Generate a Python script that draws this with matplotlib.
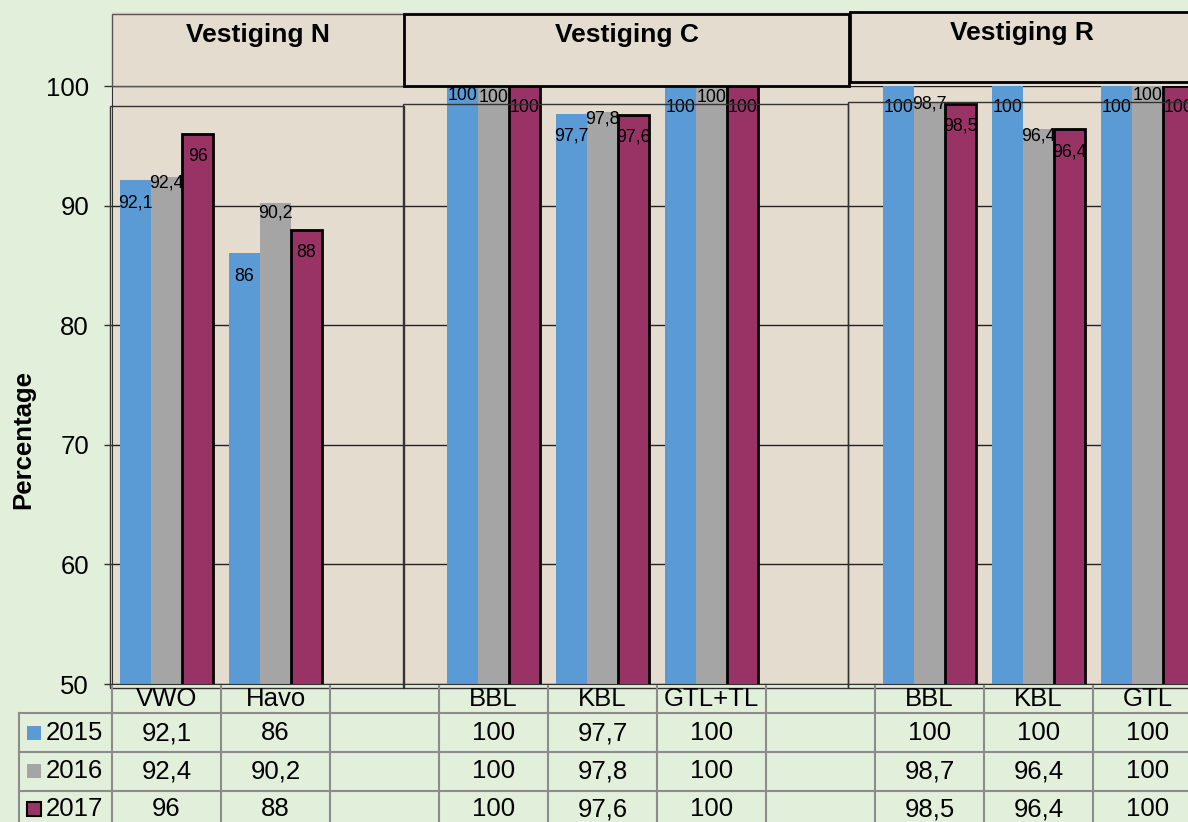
import matplotlib
matplotlib.use("Agg")
import matplotlib.pyplot as plt
import matplotlib.transforms as mtrans
from matplotlib.patches import Rectangle
import numpy as np

plt.rcParams['font.family'] = ['Liberation Sans', 'DejaVu Sans']

# data
categories = ['VWO', 'Havo', '', 'BBL', 'KBL', 'GTL+TL', '', 'BBL', 'KBL', 'GTL']
years = ['2015', '2016', '2017']
v2015 = [92.1, 86, None, 100, 97.7, 100, None, 100, 100, 100]
v2016 = [92.4, 90.2, None, 100, 97.8, 100, None, 98.7, 96.4, 100]
v2017 = [96, 88, None, 100, 97.6, 100, None, 98.5, 96.4, 100]
groups = ['Vestiging N', 'Vestiging C', 'Vestiging R']

# label offsets below bar top (pixels), as placed in the original
dy2015 = [23, 23, 0, 10, 22, 22, 0, 22, 22, 22]
dy2016 = [6, 10, 0, 11, 7, 11, 0, 2, 7, 9]
dy2017 = [23, 23, 0, 22, 22, 22, 0, 22, 23, 22]

colors = ['#5b9bd5', '#a5a5a5', '#993366']
green = '#e2efda'
beige = '#e4dccf'
W, H = 1188, 822

fig = plt.figure(figsize=(W / 100, H / 100), dpi=100)
fig.patch.set_facecolor(green)

ax = fig.add_axes([112 / W, 1 - 684 / H, 1090 / W, (684 - 86) / H])
ax.set_facecolor(beige)
ax.set_xlim(-0.5, len(categories) - 0.5)
ax.set_ylim(50, 100)
ax.set_yticks(range(50, 101, 10))
ax.set_xticks([])
ax.yaxis.grid(True, color='#222222', lw=1)
ax.set_axisbelow(True)
for s in ['top', 'right']:
    ax.spines[s].set_visible(False)
ax.spines['left'].set_color('#333333')
ax.spines['bottom'].set_color('#333333')
ax.tick_params(axis='y', length=5.5, width=1, pad=11, labelsize=18.5, color='#333333')

w = 0.285
series = [v2015, v2016, v2017]
offsets = [dy2015, dy2016, dy2017]
for j, (vals, dys) in enumerate(zip(series, offsets)):
    xs = [i + (j - 1) * w for i, v in enumerate(vals) if v is not None]
    hs = [v for v in vals if v is not None]
    ds = [d for d, v in zip(dys, vals) if v is not None]
    if j == 2:
        ax.bar(xs, hs, width=w, color=colors[j], edgecolor='black', lw=2, zorder=2)
    else:
        ax.bar(xs, hs, width=w, color=colors[j], lw=0, zorder=2)
    for x, v, d in zip(xs, hs, ds):
        ax.annotate(f"{v:g}".replace('.', ','), (x, v), xytext=(0, -d),
                    textcoords='offset pixels', ha='center', va='center',
                    fontsize=12.8, zorder=3)

# overlay in pixel coordinates for headers, frames and the data table
ov = fig.add_axes([0, 0, 1, 1], zorder=5)
ov.set_xlim(0, W)
ov.set_ylim(H, 0)
ov.axis('off')
ov.patch.set_alpha(0)

ov.add_patch(Rectangle((112, 12), 1090, 74, facecolor=beige, lw=0))
hdr = [(112, 14, 292, 72, '#555555', 1), (404, 14, 445, 72, 'black', 2),
       (850, 12, 350, 70, 'black', 2)]
for name, (x0, y0, bw, bh, ec, lw) in zip(groups, hdr):
    ov.add_patch(Rectangle((x0, y0), bw, bh, facecolor=beige, edgecolor=ec, lw=lw))
    cx = x0 + bw / 2 if x0 < 800 else 1022
    ov.text(cx, y0 + 21, name, ha='center', va='center', fontsize=19, fontweight='bold')

for x0, y0, x1 in [(110, 106, 404), (403, 104, 848), (848, 102, 1200)]:
    ov.add_patch(Rectangle((x0, y0), x1 - x0, 688 - y0, fill=False, edgecolor='#333333', lw=1))

ov.text(23, 439, 'Percentage', rotation=90, ha='center', va='center',
        fontsize=18.5, fontweight='bold')

# data table
trans = mtrans.blended_transform_factory(ax.transData, ov.transData)
gcol = '#8c8c8c'
for k in range(len(categories) + 1):
    ov.plot([k - 0.5, k - 0.5], [686, H], color=gcol, lw=1.5, transform=trans, clip_on=False)
ov.plot([19, 19], [713, H], color=gcol, lw=1.5)
for yl in [713, 752, 791]:
    ov.plot([19, W], [yl, yl], color=gcol, lw=1.5)

for i, c in enumerate(categories):
    ov.text(i, 699, c, ha='center', va='center', fontsize=18.5, transform=trans)

row_y = [733, 771, 809]
for j, (vals, yr) in enumerate(zip(series, years)):
    yc = row_y[j]
    ec = 'black' if j == 2 else 'none'
    ov.add_patch(Rectangle((27, yc - 7), 14, 14, facecolor=colors[j], edgecolor=ec, lw=1.5))
    ov.text(46, yc, yr, ha='left', va='center', fontsize=18.5)
    for i, v in enumerate(vals):
        if v is not None:
            ov.text(i, yc, f"{v:g}".replace('.', ','), ha='center', va='center',
                    fontsize=18.5, transform=trans)

fig.savefig('out.png', dpi=100, facecolor=fig.get_facecolor())
